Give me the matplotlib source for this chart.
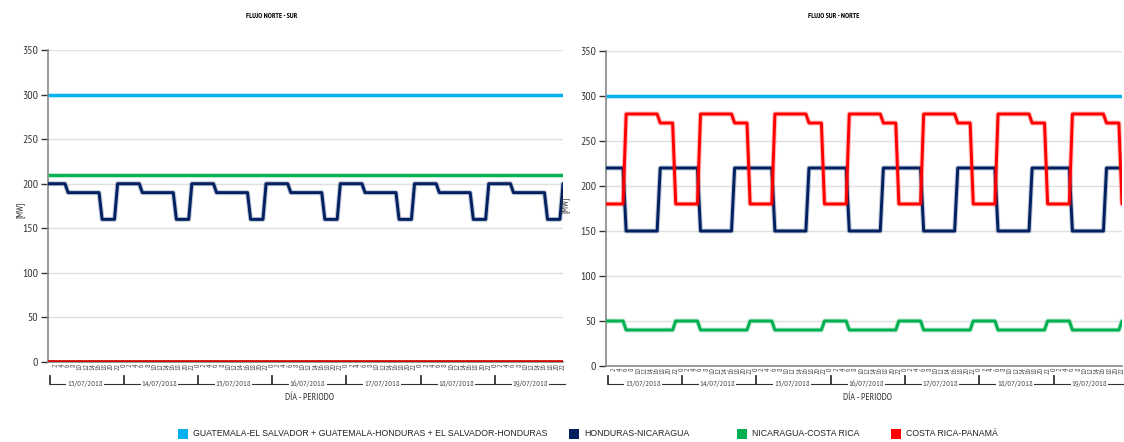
import numpy as np
import matplotlib
matplotlib.use('Agg')
import matplotlib.pyplot as plt
import matplotlib.patheffects as pe
from matplotlib.patches import Rectangle
from matplotlib import transforms

plt.rcParams['font.family'] = ['PT Sans Narrow', 'DejaVu Sans']

days = ['13/07/2018', '14/07/2018', '15/07/2018', '16/07/2018',
        '17/07/2018', '18/07/2018', '19/07/2018']

# hourly profile (hour 0..23), same every day
# FLUJO NORTE - SUR
ns_gua_sal_hon = [300] * 24
ns_hon_nic = [200] * 6 + [190] * 11 + [160] * 5 + [200] * 2
ns_nic_cri = [210] * 24
ns_cri_pan = [0] * 24
# FLUJO SUR - NORTE
sn_gua_sal_hon = [300] * 24
sn_hon_nic = [220] * 6 + [150] * 11 + [220] * 7
sn_nic_cri = [50] * 6 + [40] * 16 + [50] * 2
sn_cri_pan = [180] * 6 + [280] * 11 + [270] * 5 + [180] * 2

names = ['GUATEMALA-EL SALVADOR + GUATEMALA-HONDURAS + EL SALVADOR-HONDURAS',
         'HONDURAS-NICARAGUA', 'NICARAGUA-COSTA RICA', 'COSTA RICA-PANAMÁ']
colors = ['#00b0f0', '#002060', '#00b050', '#ff0000']

n_days = len(days)
idx = np.arange(24 * n_days)


def week(profile):
    return np.array(profile * n_days)


W, H = 1124, 442
fig = plt.figure(figsize=(W / 100, H / 100), dpi=100)
ax1 = fig.add_axes([48 / W, 80 / H, 515 / W, 312 / H])
ax2 = fig.add_axes([606 / W, 76 / H, 516 / W, 315 / H])


def draw(ax, series, title, title_x, xmax, ylab_xy):
    for s, c in zip(series, colors):
        ax.plot(idx, week(s), color=c, lw=2.1, solid_joinstyle='round', zorder=3,
                path_effects=[pe.Stroke(linewidth=3.6, foreground=c, alpha=0.25), pe.Normal()])
    ax.set_ylim(0, 350)
    ax.set_yticks(np.arange(0, 351, 50))
    ax.set_xlim(-0.5, xmax)
    ax.grid(axis='y', color='#e0e0e0', lw=1)
    ax.set_axisbelow(True)
    for sp in ['top', 'right']:
        ax.spines[sp].set_visible(False)
    for sp in ['left', 'bottom']:
        ax.spines[sp].set_color('#888888')
        ax.spines[sp].set_linewidth(1.2)
    ax.tick_params(axis='y', length=5, width=1, color='#333333', labelsize=8.5, labelcolor='#333333', pad=2)
    pos = [i for i in idx if i % 2 == 0 and i > 0]
    ax.set_xticks(pos)
    ax.set_xticklabels([str(i % 24) for i in pos], rotation=90, fontsize=5.5, color='#444444')
    ax.tick_params(axis='x', length=0, pad=1)
    ax.set_ylabel('[MW]', fontsize=6.5, color='#333333')
    ax.yaxis.set_label_coords(*ylab_xy)
    fig.text(title_x, 1 - 16 / H, title, ha='center', va='center', fontsize=5.3, fontweight='bold')

    # day groups under the axis
    tr = transforms.blended_transform_factory(ax.transData, fig.transFigure)
    y_line = 1 - 384 / H
    y_top = 1 - 376 / H
    x0, x1 = ax.get_xlim()
    ax.plot([x0 + 0.5, x1 + 0.5], [y_line, y_line], color='#333333', lw=0.8, transform=tr, clip_on=False)
    for d, day in enumerate(days):
        b = d * 24
        ax.plot([b, b], [y_line, y_top], color='#333333', lw=1.3, transform=tr, clip_on=False)
        ax.text(d * 24 + 11.5, y_line, day, transform=tr, ha='center', va='center', fontsize=6,
                color='#444444', bbox=dict(facecolor='white', edgecolor='none', pad=0.6))
    ax.text(84, 1 - 398 / H, 'DÍA - PERIODO', transform=tr, ha='center', va='center',
            fontsize=7, color='#333333')


draw(ax1, [ns_gua_sal_hon, ns_hon_nic, ns_nic_cri, ns_cri_pan], 'FLUJO NORTE - SUR', 272 / W,
     164.8, (-0.045, 0.487))
draw(ax2, [sn_gua_sal_hon, sn_hon_nic, sn_nic_cri, sn_cri_pan], 'FLUJO SUR - NORTE', 834 / W,
     165.5, (-0.07, 0.51))
ax1.lines[3].set_color('#cc0000')
ax1.lines[3].set_linewidth(2.6)

# legend row at the bottom, one square + text per series
text_x = [193, 584, 752, 906]
y_leg = 434
for name, c, x in zip(names, colors, text_x):
    fig.add_artist(Rectangle(((x - 15) / W, 1 - (y_leg + 5) / H), 10 / W, 10 / H,
                             transform=fig.transFigure, facecolor=c, edgecolor='none'))
    fig.text(x / W, 1 - y_leg / H, name, ha='left', va='center', fontsize=6.3,
             family=['Liberation Sans', 'DejaVu Sans'], color='#222222')

fig.savefig('out.png', dpi=100)
